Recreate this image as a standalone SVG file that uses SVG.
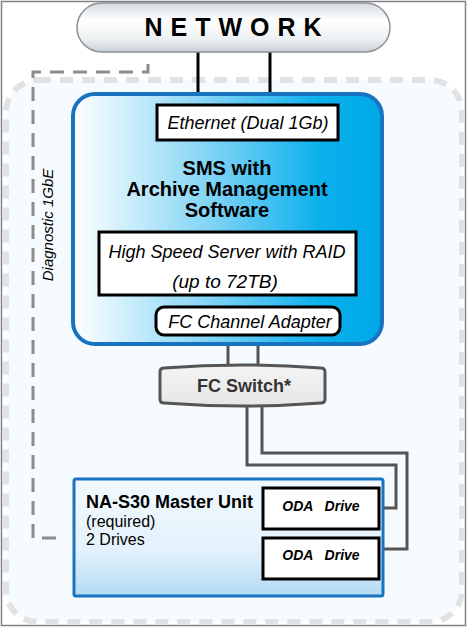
<svg xmlns="http://www.w3.org/2000/svg" width="474" height="636" viewBox="0 0 474 636">
<defs>
<style>
.it{font-family:"Liberation Sans",Arial,sans-serif;font-style:italic;fill:#000}
.b{font-family:"Liberation Sans",Arial,sans-serif;font-weight:bold;fill:#000}
.r{font-family:"Liberation Sans",Arial,sans-serif;fill:#000}
.bi{font-family:"Liberation Sans",Arial,sans-serif;font-weight:bold;font-style:italic;fill:#000}
.wbox{fill:#fff;stroke:#000;stroke-width:3}
.fc{fill:none;stroke:#555;stroke-width:3}
</style>
<linearGradient id="netg" x1="0" y1="0" x2="0" y2="1">
<stop offset="0" stop-color="#d5dadf"/>
<stop offset="0.35" stop-color="#ffffff"/>
<stop offset="0.75" stop-color="#eceff1"/>
<stop offset="1" stop-color="#c9cfd5"/>
</linearGradient>
<linearGradient id="smsg" x1="0" y1="0" x2="1" y2="0">
<stop offset="0" stop-color="#ffffff"/>
<stop offset="0.45" stop-color="#7fd3f5"/>
<stop offset="0.8" stop-color="#0bb0ec"/>
<stop offset="1" stop-color="#00a8e8"/>
</linearGradient>
<linearGradient id="mug" x1="0" y1="0" x2="0" y2="1">
<stop offset="0" stop-color="#f2f9fe"/>
<stop offset="0.6" stop-color="#e4f2fc"/>
<stop offset="1" stop-color="#b3daf4"/>
</linearGradient>
<linearGradient id="swg" x1="0" y1="0" x2="0" y2="1">
<stop offset="0" stop-color="#f4f4f4"/>
<stop offset="1" stop-color="#e6e6e6"/>
</linearGradient>
</defs>
<rect x="0" y="0" width="474" height="636" fill="#fff"/>
<rect x="1.5" y="1.5" width="464" height="624" fill="none" stroke="#808080" stroke-width="1.5"/>

<g id="zone">
<rect x="6" y="80" width="456" height="542" rx="32" fill="#f5fbfe" stroke="#e2e2e2" stroke-width="6" stroke-dasharray="13 9"/>
</g>

<g id="diagnostic">
<path d="M148,64 V72 H33 V538 H58" fill="none" stroke="#8c8c8c" stroke-width="3" stroke-dasharray="14 9"/>
<text class="it" font-size="15" transform="translate(53,225) rotate(-90)" text-anchor="middle">Diagnostic 1GbE</text>
</g>

<g id="connectors">
<line x1="198" y1="51" x2="198" y2="95" stroke="#000" stroke-width="3"/>
<line x1="270" y1="51" x2="270" y2="95" stroke="#000" stroke-width="3"/>
<line x1="228" y1="344" x2="228" y2="368" class="fc"/>
<line x1="258" y1="344" x2="258" y2="368" class="fc"/>
<path d="M247,403 V465 H396 V508 H380" class="fc"/>
<path d="M262,403 V453 H407 V549 H380" class="fc"/>
</g>

<g id="network">
<rect x="77" y="3" width="313" height="49" rx="24.5" fill="url(#netg)" stroke="#8a9299" stroke-width="1.5"/>
<text class="b" font-size="25" x="237" y="36" text-anchor="middle" letter-spacing="8">NETWORK</text>
</g>

<g id="sms">
<rect x="73" y="94" width="309" height="250" rx="22" fill="url(#smsg)" stroke="#1874c1" stroke-width="4"/>
<rect x="157" y="105" width="181" height="35" class="wbox"/>
<text class="it" font-size="18" x="248" y="129" text-anchor="middle">Ethernet (Dual 1Gb)</text>
<text class="b" font-size="20" x="227" y="175" text-anchor="middle">SMS with</text>
<text class="b" font-size="20" x="227" y="196" text-anchor="middle">Archive Management</text>
<text class="b" font-size="20" x="227" y="217" text-anchor="middle">Software</text>
<rect x="99" y="232" width="257" height="63" class="wbox"/>
<text class="it" font-size="18" x="227" y="258" text-anchor="middle">High Speed Server with RAID</text>
<text class="it" font-size="19" x="225" y="288" text-anchor="middle">(up to 72TB)</text>
<rect x="156" y="307" width="184" height="28" rx="8" class="wbox"/>
<text class="it" font-size="18" x="250" y="328" text-anchor="middle">FC Channel Adapter</text>
</g>

<g id="fcswitch">
<path d="M164,368 Q242,362 321,368 Q325,368 325,372 V399 Q325,403 321,403 Q242,409 164,403 Q160,403 160,399 V372 Q160,368 164,368 Z" fill="url(#swg)" stroke="#555" stroke-width="3"/>
<text class="b" font-size="18" x="244" y="392" text-anchor="middle" style="fill:#333">FC Switch*</text>
</g>

<g id="master">
<rect x="74" y="479" width="309" height="117" rx="2" fill="url(#mug)" stroke="#1874c1" stroke-width="3"/>
<text class="b" font-size="18" x="86" y="508">NA-S30 Master Unit</text>
<text class="r" font-size="16" x="86" y="527">(required)</text>
<text class="r" font-size="16" x="86" y="545">2 Drives</text>
</g>

<g id="drive1">
<rect x="263" y="488" width="116" height="41" class="wbox"/>
<text class="bi" font-size="14" x="321" y="511" text-anchor="middle" xml:space="preserve">ODA   Drive</text>
</g>
<g id="drive2">
<rect x="263" y="538" width="116" height="41" class="wbox"/>
<text class="bi" font-size="14" x="321" y="560" text-anchor="middle" xml:space="preserve">ODA   Drive</text>
</g>
</svg>
